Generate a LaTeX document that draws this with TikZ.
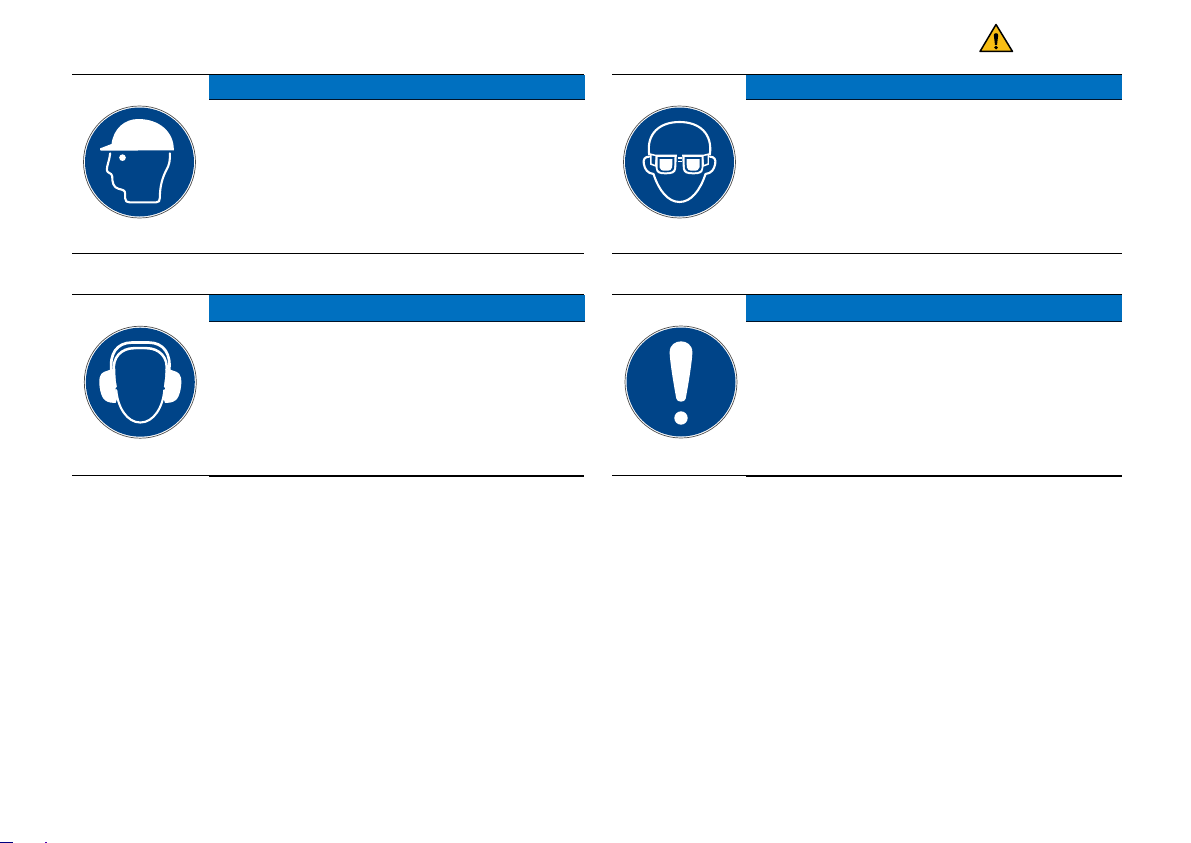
\documentclass[tikz,border=0pt]{standalone}
\definecolor{signblue}{HTML}{004488}
\definecolor{barblue}{HTML}{0070C0}
\definecolor{warnyellow}{HTML}{F8BE14}
\tikzset{
	rulethin/.style={draw=black, line width=0.9pt},
	rulethick/.style={draw=black, line width=1.6pt},
	headbar/.style={rectangle, fill=barblue, draw=none, inner sep=0pt, minimum height=24.5pt, minimum width=375.5pt, anchor=north west},
	signring/.style={circle, fill=white, draw=black!70, line width=0.7pt, inner sep=0pt, minimum size=112pt},
	signdisc/.style={circle, fill=signblue, draw=none, inner sep=0pt, minimum size=109pt},
	whiteline/.style={draw=white, line width=2.1pt, line join=round, line cap=round},
	whitefill/.style={fill=white, draw=none},
}
\begin{document}
\begin{tikzpicture}[x=1pt, y=-1pt]
		\useasboundingbox (0,0) rectangle (1191,843);
		
		% Warning triangle
		\coordinate (T1) at (996,24.5);
		\coordinate (T2) at (1012.5,51.5);
		\coordinate (T3) at (980,51.5);
		\draw[fill=warnyellow, draw=black, line width=1.5pt, line join=round] (T1) -- (T2) -- (T3) -- cycle;
		\fill[black] (993.8,35) .. controls (993.8,32.6) and (998.2,32.6) .. (998.2,35) -- (997,45) -- (995,45) -- cycle;
		\fill[black] (996,47.6) circle (1.9);
		
		% Panel 1
		\coordinate (R1a) at (72,74.5);
		\coordinate (R1b) at (584,74.5);
		\coordinate (R1c) at (72,253);
		\coordinate (R1d) at (584,253);
		\node[headbar] (B1) at (209,74.5) {};
		\draw[draw=black!70!signblue, line width=0.8pt] (B1.south west) -- (B1.south east);
		\draw[rulethin] (R1a) -- (R1b);
		\draw[rulethin] (R1c) -- (R1d);
		\node[signring] (S1) at (139.5,162) {};
		\node[signdisc] (D1) at (S1) {};
		\begin{scope}[shift={(139.5,162)}, x=0.3333pt, y=-0.3333pt]
			\fill[whitefill] (-118,-41) -- (-84,-54) .. controls (-78,-100) and (-45,-129) .. (-4,-129) .. controls (60,-129) and (104,-90) .. (103,-35) -- (-115,-34) .. controls (-118,-34) and (-120,-38) .. cycle;
			\draw[whiteline] (-88,-26) .. controls (-90,-5) and (-98,10) .. (-98,24) .. controls (-98,34) and (-83,32) .. (-82,42) .. controls (-82,62) and (-78,76) .. (-64,80) .. controls (-50,84) and (-43,84) .. (-43,96) -- (-43,109) .. controls (-43,118) and (-38,121) .. (-30,121) -- (50,121) .. controls (58,121) and (61,117) .. (61,108) .. controls (61,70) and (70,45) .. (80,25) .. controls (90,8) and (92,-5) .. (91,-26);
			\fill[whitefill] (-51,-13) circle (10);
		\end{scope}
		
		% Panel 2
		\coordinate (R2a) at (612,74.5);
		\coordinate (R2b) at (1122,74.5);
		\coordinate (R2c) at (612,253);
		\coordinate (R2d) at (1122,253);
		\node[headbar] (B2) at (746,74.5) {};
		\draw[draw=black!70!signblue, line width=0.8pt] (B2.south west) -- (B2.south east);
		\draw[rulethin] (R2a) -- (R2b);
		\draw[rulethin] (R2c) -- (R2d);
		\node[signring] (S2) at (679.5,162) {};
		\node[signdisc] (D2) at (S2) {};
		\begin{scope}[shift={(679.5,162)}, x=0.3333pt, y=-0.3333pt]
			% face
			\draw[whiteline] (-91,-22) .. controls (-100,-85) and (-60,-120) .. (0,-120) .. controls (60,-120) and (100,-85) .. (91,-22);
			\draw[whiteline] (-78,36) .. controls (-62,85) and (-35,120) .. (0,120) .. controls (35,120) and (62,85) .. (78,36);
			% ears
			\draw[whiteline] (-91,-16) .. controls (-104,-16) and (-110,-8) .. (-107,6) .. controls (-104,22) and (-96,34) .. (-78,36);
			\draw[whiteline] (91,-16) .. controls (104,-16) and (110,-8) .. (107,6) .. controls (104,22) and (96,34) .. (78,36);
			% goggles
			\foreach \sgn in {-1,1} {
				\fill[whitefill] (\sgn*8,-22) -- (\sgn*72,-22) -- (\sgn*88,-26) -- (\sgn*88,8) -- (\sgn*72,14) -- (\sgn*71,20) .. controls (\sgn*70,34) and (\sgn*60,37) .. (\sgn*42,37) .. controls (\sgn*22,37) and (\sgn*12,34) .. (\sgn*10,20) -- cycle;
				\fill[signblue] (\sgn*72,-17) -- (\sgn*84,-20) -- (\sgn*84,4) -- (\sgn*74,8) -- cycle;
				\fill[signblue] (\sgn*15,-15) -- (\sgn*66,-15) -- (\sgn*66,18) .. controls (\sgn*64,28) and (\sgn*58,31) .. (\sgn*42,31) .. controls (\sgn*26,31) and (\sgn*18,28) .. (\sgn*16,18) -- cycle;
				\fill[whitefill] (\sgn*21,-9) -- (\sgn*60,-9) -- (\sgn*60,16) .. controls (\sgn*58,24) and (\sgn*54,26) .. (\sgn*42,26) .. controls (\sgn*28,26) and (\sgn*23,24) .. (\sgn*22,16) -- cycle;
			}
			\fill[signblue] (-8,-24) rectangle (8,32);
			\fill[whitefill] (-6,-14) rectangle (6,-9);
			\fill[whitefill] (-6,-4) rectangle (6,1);
		\end{scope}
		
		% Panel 3
		\coordinate (R3a) at (72,294.5);
		\coordinate (R3b) at (584,294.5);
		\coordinate (R3c) at (72,475.5);
		\coordinate (R3d) at (209,475.5);
		\coordinate (R3e) at (584,476);
		\node[headbar, minimum height=26pt] (B3) at (209,295) {};
		\draw[draw=black!70!signblue, line width=0.8pt] (B3.south west) -- (B3.south east);
		\draw[rulethin] (R3a) -- (R3b);
		\draw[rulethin] (R3c) -- (R3d);
		\draw[rulethick] (R3d |- R3e) -- (R3e);
		\node[signring] (S3) at (140.3,382.2) {};
		\node[signdisc] (D3) at (S3) {};
		\begin{scope}[shift={(140.3,382.2)}, x=0.3333pt, y=-0.3333pt]
			% ear cups
			\foreach \sgn in {-1,1} {
				\fill[whitefill] (\sgn*70,-40) -- (\sgn*90,-38) .. controls (\sgn*100,-32) and (\sgn*118,-34) .. (\sgn*122,-14) .. controls (\sgn*126,10) and (\sgn*118,46) .. (\sgn*106,54) .. controls (\sgn*96,62) and (\sgn*84,62) .. (\sgn*74,62) -- (\sgn*60,20) -- cycle;
			}
			% headband
			\draw[whiteline, line width=2.7pt] (-86,-32) .. controls (-94,-85) and (-70,-119) .. (-25,-119) -- (25,-119) .. controls (70,-119) and (94,-85) .. (86,-32);
			\draw[whiteline, line width=2.5pt] (-78,-32) .. controls (-86,-75) and (-55,-102) .. (-20,-102) -- (20,-102) .. controls (55,-102) and (86,-75) .. (78,-32);
			% face
			\fill[signblue] (0,-98) .. controls (-50,-98) and (-78,-72) .. (-75,-30) .. controls (-74,-10) and (-72,5) .. (-70,14) -- (-74,18) .. controls (-70,70) and (-40,118) .. (0,118) .. controls (40,118) and (70,70) .. (74,18) -- (70,14) .. controls (72,5) and (74,-10) .. (75,-30) .. controls (78,-72) and (50,-98) .. (0,-98) -- cycle;
			\draw[whiteline] (-72,24) .. controls (-68,75) and (-40,121) .. (0,121) .. controls (40,121) and (68,75) .. (72,24);
		\end{scope}
		
		% Panel 4
		\coordinate (R4a) at (612,294.5);
		\coordinate (R4b) at (1122,294.5);
		\coordinate (R4c) at (612,475.5);
		\coordinate (R4d) at (746,475.5);
		\coordinate (R4e) at (1122,476);
		\node[headbar, minimum height=26pt] (B4) at (746,295) {};
		\draw[draw=black!70!signblue, line width=0.8pt] (B4.south west) -- (B4.south east);
		\draw[rulethin] (R4a) -- (R4b);
		\draw[rulethin] (R4c) -- (R4d);
		\draw[rulethick] (R4d |- R4e) -- (R4e);
		\node[signring] (S4) at (681,382) {};
		\node[signdisc] (D4) at (S4) {};
		\begin{scope}[shift={(681,382)}, x=0.3333pt, y=-0.3333pt]
			\fill[whitefill] (-34,-90) .. controls (-34,-112) and (-16,-122) .. (0,-122) .. controls (16,-122) and (34,-112) .. (34,-90) .. controls (34,-60) and (18,30) .. (14,50) .. controls (12,62) and (-12,62) .. (-14,50) .. controls (-18,30) and (-34,-60) .. (-34,-90) -- cycle;
			\fill[whitefill] (0,108) circle (20);
		\end{scope}
		
		% Stray marks along the bottom edge
		\fill[blue!50!black] (0,842) rectangle (13,843);
		\fill[blue!70!red] (45,842) rectangle (47,843);
		
	\end{tikzpicture}
\end{document}
